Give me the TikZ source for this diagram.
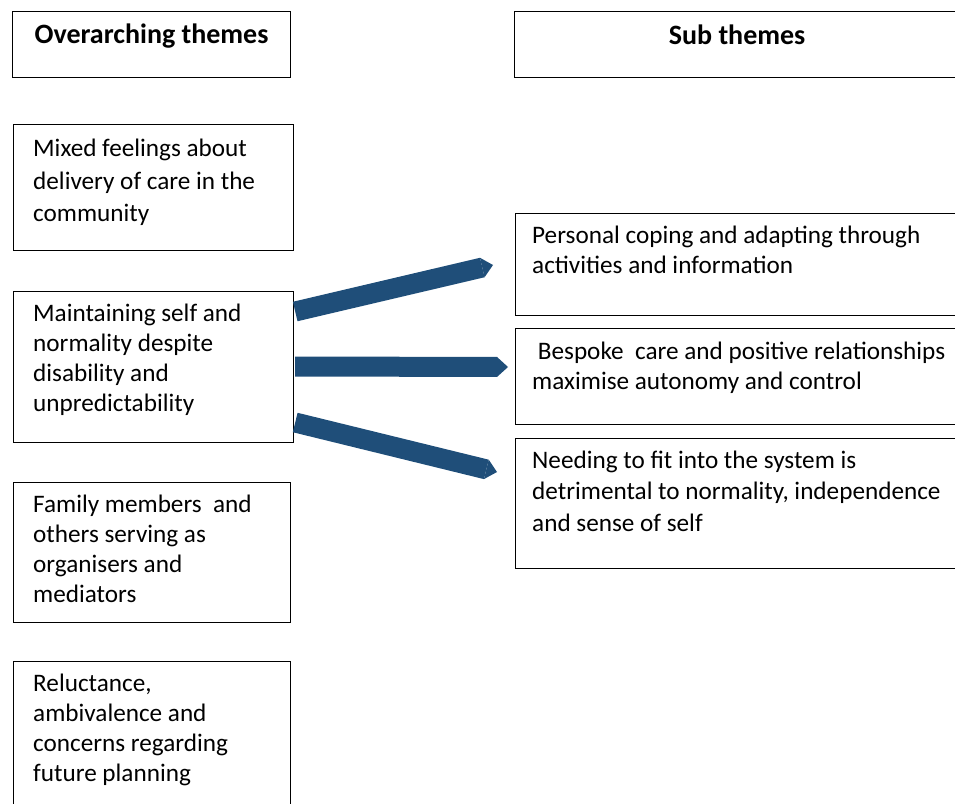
\documentclass[tikz,border=0pt]{standalone}
\usepackage{fontspec}
\setmainfont{Carlito}
\usetikzlibrary{positioning, arrows.meta}
\definecolor{themeblue}{HTML}{1F4E79}

\begin{document}
\begin{tikzpicture}[x=1pt, y=-1pt,
        box/.style={draw, line width=1.2pt, anchor=north west, inner sep=0pt},
        headtext/.style={anchor=base, font=\fontsize{28}{30}\selectfont\bfseries},
        themetext/.style={anchor=base west, align=left, inner sep=0pt, font=\fontsize{25.2}{30}\selectfont},
        link/.style={themeblue, line width=20pt, -{Triangle[width=20pt, length=11pt, line width=0pt]}}
    ]
      \useasboundingbox (0,0) rectangle (955,803);

      % Headings
      \node[box, minimum width=278, minimum height=66] (overhead) at (12,10.5) {};
      \node[headtext] at ([shift={(0,33)}]overhead.north) {Overarching themes};
      \node[box, minimum width=445, minimum height=66] (subhead) at (514,10.5) {};
      \node[headtext] at ([shift={(0,34)}]subhead.north) {Sub themes};

      % Overarching themes (base anchor = last line)
      \node[box, minimum width=280, minimum height=126] (mixed) at (13,124) {};
      \node[themetext, font=\fontsize{25.2}{32.5}\selectfont] at ([shift={(20,97.5)}]mixed.north west)
        {Mixed feelings about\\delivery of care in the\\community};
      \node[box, minimum width=280, minimum height=151] (maint) at (13,290.5) {};
      \node[themetext] at ([shift={(20,121)}]maint.north west)
        {Maintaining self and\\normality despite\\disability and\\unpredictability};
      \node[box, minimum width=277, minimum height=140] (family) at (13,481.5) {};
      \node[themetext] at ([shift={(20,121)}]family.north west)
        {Family members\ \ and\\others serving as\\organisers and\\mediators};
      \node[box, minimum width=277, minimum height=160] (reluct) at (13,661) {};
      \node[themetext] at ([shift={(20,120)}]reluct.north west)
        {Reluctance,\\ambivalence and\\concerns regarding\\future planning};

      % Sub themes
      \node[box, minimum width=445, minimum height=102] (personal) at (515,213) {};
      \node[themetext] at ([shift={(17,60.5)}]personal.north west)
        {Personal coping and adapting through\\activities and information};
      \node[box, minimum width=445, minimum height=96] (bespoke) at (515,328) {};
      \node[themetext] at ([shift={(17,61)}]bespoke.north west)
        {\ Bespoke\ \ care and positive relationships\\maximise autonomy and control};
      \node[box, minimum width=445, minimum height=130] (fit) at (515,438) {};
      \node[themetext, font=\fontsize{25.2}{31.5}\selectfont] at ([shift={(17,93)}]fit.north west)
        {Needing to fit into the system is\\detrimental to normality, independence\\and sense of self};

      % Links
      \draw[link] ([shift={(1,21)}]maint.north east) -- ([shift={(-22,52)}]personal.north west);
      \draw[link] ([shift={(1,76)}]maint.north east) -- ([shift={(-7,39)}]bespoke.north west);
      \draw[link] ([shift={(1,132)}]maint.north east) -- ([shift={(-18,34)}]fit.north west);
    \end{tikzpicture}
\end{document}
